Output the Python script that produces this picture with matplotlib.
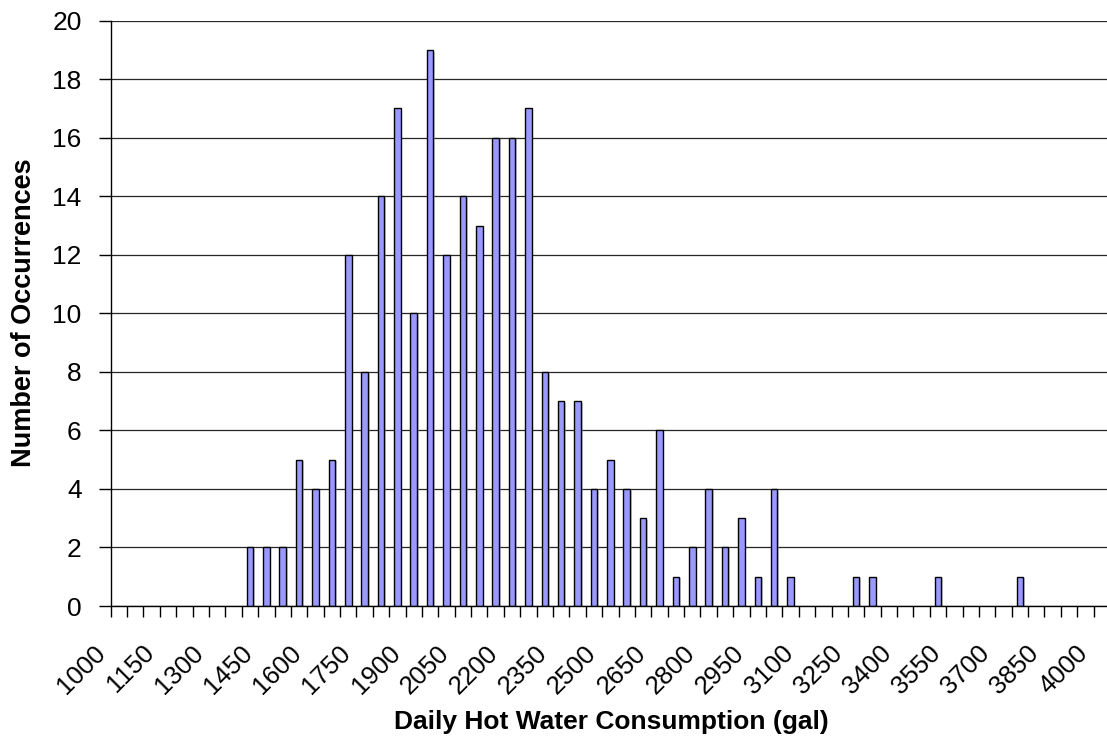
import matplotlib
matplotlib.use("Agg")
import matplotlib.pyplot as plt
import matplotlib.patheffects as pe
from matplotlib.transforms import ScaledTranslation
import numpy as np

plt.rcParams['font.family'] = ['Liberation Sans', 'DejaVu Sans']

# ---- data ----
categories = list(range(1000, 4001, 50))   # bin labels (gal)
counts = [0, 0, 0, 0, 0, 0, 0, 0,
          2, 2, 2, 5, 4, 5, 12, 8, 14, 17, 10, 19, 12, 14, 13, 16, 16, 17,
          8, 7, 7, 4, 5, 4, 3, 6, 1, 2, 4, 2, 3, 1, 4, 1,
          0, 0, 0, 1, 1, 0, 0, 0, 1, 0, 0, 0, 0, 1,
          0, 0, 0, 0, 0]
label_step = 3
y_ticks = list(range(0, 21, 2))
x_title = "Daily Hot Water Consumption (gal)"
y_title = "Number of Occurrences"

# ---- figure ----
W, H, DPI = 1107, 740, 100
fig = plt.figure(figsize=(W / DPI, H / DPI), dpi=DPI)
left, right, top, bottom = 110.7, 1110.0, 20.7, 606.0
ax = fig.add_axes([left / W, 1 - bottom / H, (right - left) / W, (bottom - top) / H])

pos = np.arange(len(categories))
vals = np.array(counts)
mask = vals > 0
bars = ax.bar(pos[mask], vals[mask], width=0.4, color='#9999FF',
              edgecolor='black', linewidth=1.0, zorder=3)
for b in bars:
    b.set_path_effects([pe.SimplePatchShadow(offset=(1.2, -1.2), shadow_rgbFace='#999999', alpha=0.5),
                        pe.Normal()])

ax.set_xlim(-0.5, len(categories) - 0.5)
ax.set_ylim(0, 20)

# y axis
ax.set_yticks(y_ticks)
ax.set_yticklabels([str(v) for v in y_ticks])
ax.tick_params(axis='y', direction='out', length=9, width=1, pad=12,
               labelsize=19, colors='black')
ax.yaxis.grid(True, color='#262626', linewidth=0.9, zorder=0)
ax.set_axisbelow(True)

# x axis: major ticks at category boundaries, labels on every 3rd category
ax.set_xticks(np.arange(-0.5, len(categories), 1.0))
ax.set_xticklabels([])
ax.tick_params(axis='x', which='major', direction='out', length=8, width=1, color='black')
ax.set_xticks(pos[::label_step], [str(c) for c in categories[::label_step]], minor=True)
ax.tick_params(axis='x', which='minor', length=0, pad=25, labelsize=18.5, colors='black')
shift = ScaledTranslation(-9 / DPI, 0, fig.dpi_scale_trans)
for lab in ax.get_xticklabels(minor=True):
    lab.set_rotation(45)
    lab.set_ha('right')
    lab.set_va('top')
    lab.set_transform(lab.get_transform() + shift)

for s in ['top', 'right']:
    ax.spines[s].set_visible(False)
for s in ['left', 'bottom']:
    ax.spines[s].set_color('black')
    ax.spines[s].set_linewidth(1.0)
    ax.spines[s].set_zorder(4)

fig.text(611 / W, 1 - 722 / H, x_title, ha='center', va='center',
         fontsize=19, fontweight='bold')
fig.text(24 / W, 1 - 313 / H, y_title, ha='center', va='center',
         rotation=90, fontsize=19.5, fontweight='bold')

fig.savefig('out.png', dpi=DPI)
